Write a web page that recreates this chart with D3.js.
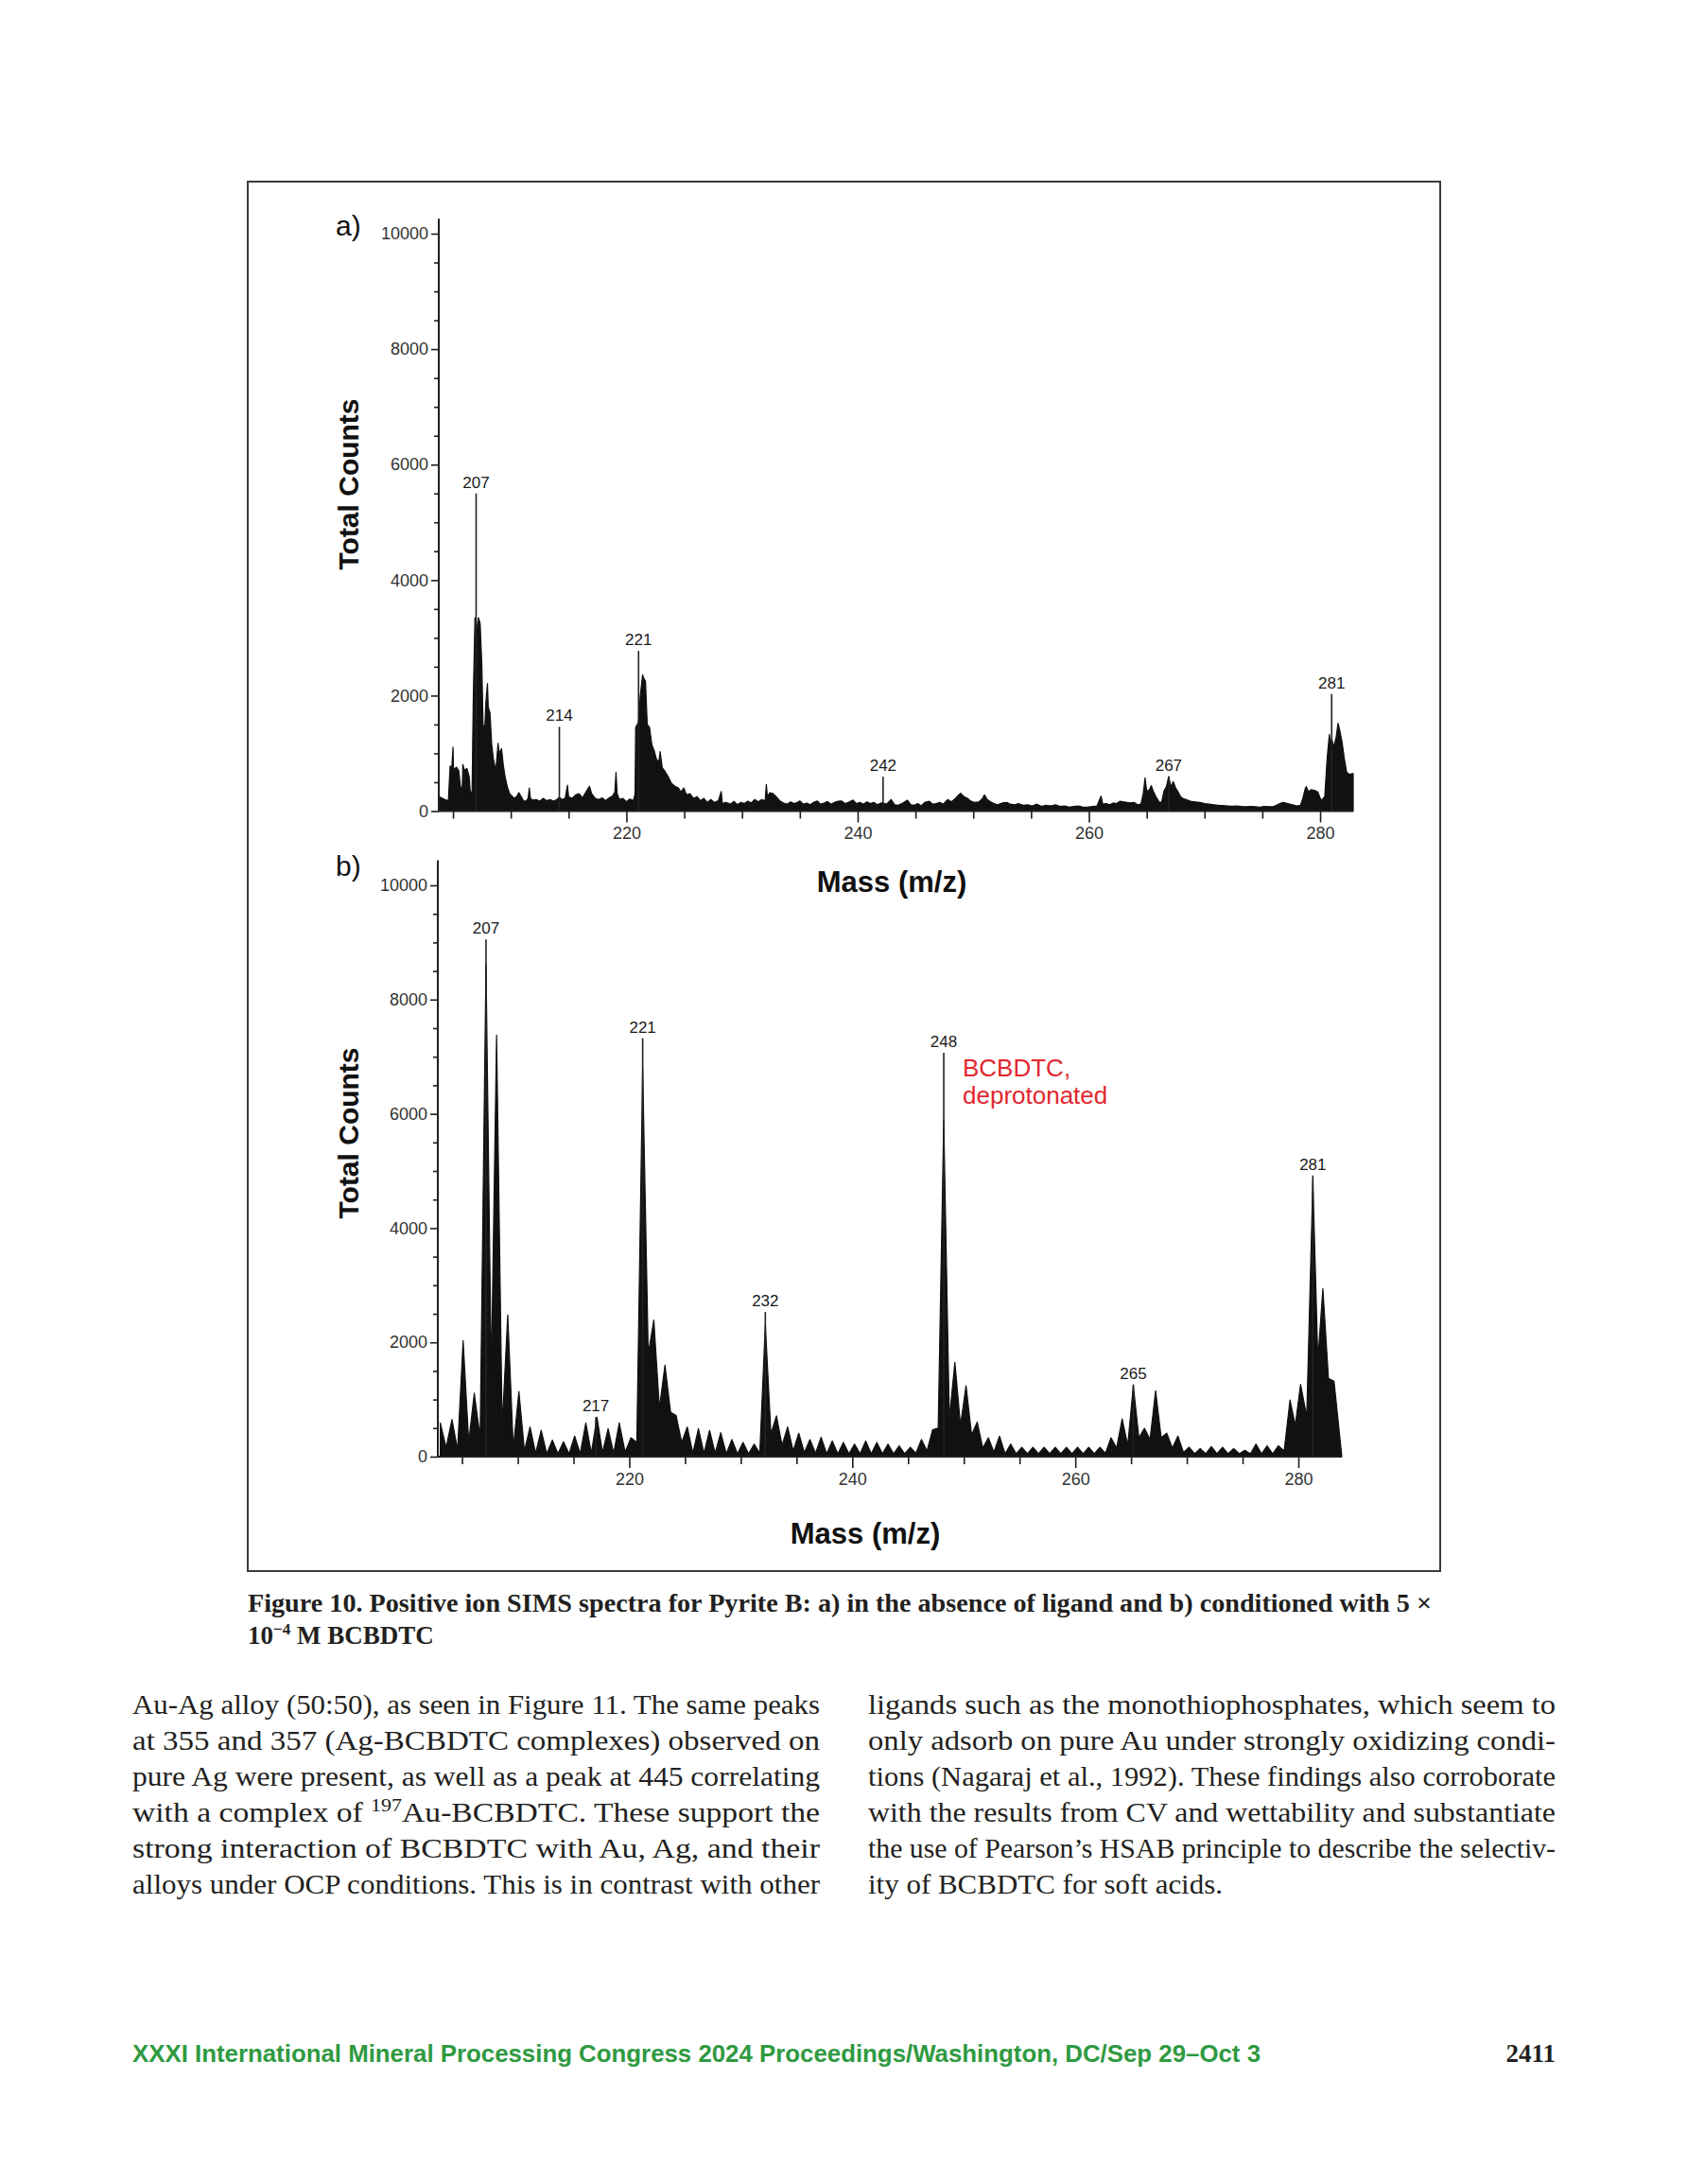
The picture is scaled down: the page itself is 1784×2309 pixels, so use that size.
<!DOCTYPE html>
<html><head><meta charset="utf-8">
<script src="https://cdn.jsdelivr.net/npm/d3@7"></script>
<style>body{margin:0;background:#fff}svg{display:block}</style>
</head><body>
<svg id="c" width="1784" height="2309"></svg>
<script>
// ---------- DATA ----------
// Panel a) spectrum (mass, counts)
const massA = [203.8,204.0,204.3,204.6,204.75,204.9,205.0,205.05,205.3,205.5,205.65,205.8,205.85,206.0,206.2,206.4,206.5,206.65,206.75,206.9,207.0,207.1,207.2,207.35,207.5,207.6,207.75,207.85,207.98,208.05,208.2,208.35,208.5,208.7,208.9,209.0,209.2,209.35,209.5,209.7,209.9,210.1,210.3,210.5,210.7,210.9,211.1,211.3,211.5,211.6,211.7,211.9,212.2,212.5,212.8,213.1,213.4,213.7,214.0,214.2,214.4,214.7,214.9,215.0,215.3,215.6,215.9,216.2,216.5,216.8,217.0,217.3,217.6,217.9,218.2,218.5,218.8,219.0,219.1,219.2,219.4,219.7,220.0,220.3,220.6,220.75,220.8,220.95,221.05,221.2,221.4,221.5,221.65,221.8,222.0,222.2,222.4,222.6,222.8,222.92,223.1,223.3,223.6,223.9,224.2,224.5,224.7,224.96,225.2,225.5,225.8,226.1,226.4,226.7,227.0,227.3,227.6,227.96,228.2,228.3,228.6,229.0,229.3,229.6,229.9,230.2,230.5,230.8,231.1,231.4,231.7,232.0,232.1,232.2,232.4,232.7,233.0,233.3,233.6,233.9,234.2,234.5,234.8,235.0,235.3,235.6,235.9,236.2,236.5,236.8,237.1,237.4,237.7,238.0,238.3,238.6,238.9,239.2,239.6,239.9,240.2,240.5,240.8,241.1,241.4,241.7,242.0,242.2,242.5,242.9,243.2,243.5,243.9,244.3,244.6,244.9,245.2,245.5,245.8,246.2,246.5,246.8,247.1,247.4,247.8,248.1,248.4,248.7,248.9,249.2,249.5,249.8,250.1,250.5,250.8,250.97,251.2,251.5,251.8,252.1,252.5,252.9,253.2,253.6,253.9,254.3,254.7,255.1,255.5,255.9,256.3,256.7,257.1,257.5,257.9,258.3,258.7,259.1,259.5,259.9,260.3,260.7,261.05,261.2,261.5,261.8,262.1,262.4,262.7,263.0,263.3,263.6,263.9,264.2,264.5,264.7,264.86,265.0,265.2,265.4,265.6,265.8,266.1,266.3,266.5,266.7,266.9,267.1,267.3,267.5,267.7,267.9,268.1,268.4,268.8,269.2,269.6,270.0,270.4,270.8,271.2,271.6,272.0,272.4,272.8,273.2,273.6,274.0,274.4,274.8,275.2,275.6,276.0,276.4,276.8,277.2,277.6,278.0,278.3,278.5,278.7,278.8,279.0,279.2,279.5,279.8,280.1,280.4,280.6,280.8,280.95,281.0,281.2,281.4,281.55,281.7,281.9,282.1,282.3,282.5,282.7,282.86];
const countsA = [250,230,200,180,780,760,1110,720,760,700,420,400,810,700,740,600,320,340,1900,3350,3300,3100,3350,3250,2500,1500,1440,1900,2210,1800,1700,1150,900,700,1175,1000,1080,800,600,420,300,260,220,250,320,250,180,170,220,400,220,190,200,170,220,180,200,170,200,240,200,220,450,250,220,280,300,230,330,430,300,220,200,230,180,230,260,330,670,300,200,220,160,210,180,300,1450,1500,1550,2000,2360,2300,2250,1500,1450,1150,1050,900,850,1030,750,700,600,480,430,400,330,400,280,300,220,250,180,220,150,200,150,180,340,130,150,120,170,110,150,130,170,140,200,160,200,180,460,250,320,300,240,170,140,120,160,130,150,175,120,140,110,150,175,120,140,165,120,150,170,175,130,150,190,130,150,120,160,130,150,110,140,140,120,200,110,100,140,190,110,100,130,90,150,170,120,130,150,120,200,160,210,270,310,250,220,170,150,160,220,280,200,160,130,110,140,150,120,110,130,100,110,90,120,80,100,90,110,80,90,70,80,90,70,70,80,90,260,120,130,110,140,130,170,160,150,140,150,110,120,300,575,350,360,440,330,250,150,160,350,420,595,420,510,400,340,260,220,200,170,160,150,130,120,110,100,95,90,85,90,80,75,80,75,70,80,75,80,120,150,130,110,90,100,220,380,425,330,370,360,330,180,250,900,1330,1100,1250,1110,1300,1520,1400,1190,900,670,640,645,650];
const peakTextA = ["207","214","221","242","267","281"];
const peakMassA = [207.0,214.2,221.05,242.2,266.9,281.0];
const peakTopA  = [5500,1460,2775,595,600,2027];

// Panel b) spectrum: nominal-mass peaks (peak mass, peak counts, valley counts after the peak)
const massB = [203.05,204.1,205.1,206.1,207.15,208.1,209.1,210.1,211.1,212.1,213.1,214.1,215.1,216.1,217.1,218.1,219.1,220.15,221.2,222.2,223.2,224.2,225.2,226.2,227.2,228.2,229.2,230.2,231.2,232.2,233.2,234.2,235.2,236.2,237.2,238.2,239.2,240.2,241.2,242.2,243.2,244.2,245.2,246.2,247.2,248.2,249.2,250.2,251.2,252.2,253.2,254.2,255.2,256.2,257.2,258.2,259.2,260.2,261.2,262.2,263.2,264.2,265.2,266.2,267.2,268.2,269.2,270.2,271.2,272.2,273.2,274.2,275.2,276.2,277.2,278.2,279.25,280.2,281.3,282.2,283.2];
const countsB = [590,650,2030,1110,8630,7380,2480,1140,520,460,290,260,360,590,690,490,590,330,6800,2390,1600,720,520,490,460,420,300,250,220,2310,715,520,410,300,340,275,250,220,275,250,220,190,165,300,470,5885,1650,1240,605,330,360,220,165,165,165,165,165,165,165,165,330,660,1240,495,1155,410,360,165,140,175,165,140,110,220,190,190,990,1265,4840,2940,1320];
const valleyB = [160,120,260,330,1440,520,150,100,60,50,50,50,50,60,70,60,80,250,1800,850,780,250,60,60,60,50,50,50,60,400,200,100,70,60,50,50,50,50,50,50,50,50,60,100,500,660,550,380,150,80,50,50,50,50,50,50,50,50,50,60,150,200,330,300,330,150,70,50,50,50,50,50,50,50,50,100,550,700,1700,1370,0];
const peakTextB = ["207","217","221","232","248","265","281"];
const peakMassB = [207.15,217.0,221.2,232.2,248.2,265.2,281.3];
const peakTopB  = [9052,690,7320,2530,7070,1265,4922];

// Axes ticks
const yMajor = [0,2000,4000,6000,8000,10000];
const yMinor = [500,1000,1500,2500,3000,3500,4500,5000,5500,6500,7000,7500,8500,9000,9500];
const xMajor = [220,240,260,280];
const xMinor = [205,210,215,225,230,235,245,250,255,265,270,275];

// ---------- DRAW ----------
const svg = d3.select("#c");
const SANS = "'Liberation Sans', Arial, sans-serif";
const SERIF = "'Liberation Serif', 'Times New Roman', serif";
const INK = "#1e1e1e";

svg.append("rect").attr("x",262).attr("y",192).attr("width",1261).attr("height",1469)
  .attr("fill","none").attr("stroke","#3a3a3a").attr("stroke-width",2);

function panel(cfg){
  const x = d3.scaleLinear().domain(cfg.xdom).range(cfg.xr);
  const y = d3.scaleLinear().domain([0,10000]).range(cfg.yr);
  const g = svg.append("g");
  g.append("path").datum(cfg.pts)
    .attr("d", d3.area().x(d=>x(d[0])).y0(y(0)).y1(d=>y(d[1])))
    .attr("fill","#111").attr("stroke","#111").attr("stroke-width",1.2).attr("stroke-linejoin","round");
  cfg.peakMass.forEach((m,i)=>{
    g.append("line").attr("x1",x(m)).attr("x2",x(m)).attr("y1",y(0)).attr("y2",y(cfg.peakTop[i]))
      .attr("stroke","#222").attr("stroke-width",1.6);
    g.append("text").attr("x",x(m)).attr("y",y(cfg.peakTop[i])-6).attr("text-anchor","middle")
      .attr("font-family",SANS).attr("font-size",17).attr("fill","#1a1a1a").text(cfg.peakText[i]);
  });
  const yax = g.append("g").attr("transform",`translate(${cfg.xr[0]},0)`);
  yax.call(d3.axisLeft(y).tickValues(yMajor).tickSize(8).tickPadding(3).tickSizeOuter(0).tickFormat(d3.format("d")));
  yax.append("g").call(d3.axisLeft(y).tickValues(yMinor).tickSize(5).tickSizeOuter(0).tickFormat(""));
  yax.selectAll(".domain").remove();
  yax.append("line").attr("x1",0).attr("x2",0).attr("y1",y(0)).attr("y2",y(cfg.yTop)).attr("stroke",INK).attr("stroke-width",2);
  const xax = g.append("g").attr("transform",`translate(0,${cfg.yr[0]})`);
  xax.call(d3.axisBottom(x).tickValues(xMajor).tickSize(12).tickPadding(5).tickSizeOuter(0).tickFormat(d3.format("d")));
  xax.append("g").call(d3.axisBottom(x).tickValues(xMinor).tickSize(8).tickSizeOuter(0).tickFormat(""));
  xax.selectAll(".domain").remove();
  xax.append("line").attr("x1",cfg.xr[0]).attr("x2",cfg.xr[1]).attr("y1",0).attr("y2",0).attr("stroke",INK).attr("stroke-width",2);
  g.selectAll(".tick line").attr("stroke",INK).attr("stroke-width",1.6);
  g.selectAll(".tick text").attr("font-family",SANS).attr("font-size",18).attr("fill","#333");
  g.append("text").attr("transform",`translate(379,${cfg.ylabY}) rotate(-90)`).attr("text-anchor","middle")
    .attr("font-family",SANS).attr("font-weight","bold").attr("font-size",30).attr("fill","#111").text("Total Counts");
  g.append("text").attr("x",cfg.xlabX).attr("y",cfg.xlabY).attr("text-anchor","middle")
    .attr("font-family",SANS).attr("font-weight","bold").attr("font-size",31).attr("fill","#111").text("Mass (m/z)");
  g.append("text").attr("x",355).attr("y",cfg.tagY)
    .attr("font-family",SANS).attr("font-size",30).attr("fill","#111").text(cfg.tag);
  return {x,y,g};
}

const ptsA = massA.map((m,i)=>[m,countsA[i]]);
panel({xdom:[203.77,282.86], xr:[464,1431], yr:[857.5,247], yTop:10260, pts:ptsA,
  peakMass:peakMassA, peakTop:peakTopA, peakText:peakTextA, ylabY:512, xlabX:943, xlabY:943, tagY:249, tag:"a)"});

const ptsB = [];
massB.forEach((m,i)=>{
  ptsB.push([m,countsB[i]]);
  const next = i<massB.length-1 ? (m+massB[i+1])/2 : 283.9;
  ptsB.push([next,valleyB[i]]);
});
const pb = panel({xdom:[202.83,283.9], xr:[463,1419], yr:[1540,936], yTop:10440, pts:ptsB,
  peakMass:peakMassB, peakTop:peakTopB, peakText:peakTextB, ylabY:1198, xlabX:915, xlabY:1632, tagY:926, tag:"b)"});

const ann = pb.g.append("text").attr("font-family",SANS).attr("font-size",26).attr("fill","#e3262e");
ann.append("tspan").attr("x",1018).attr("y",1138).text("BCBDTC,");
ann.append("tspan").attr("x",1018).attr("y",1167).text("deprotonated");

// caption
svg.append("text").attr("x",262).attr("y",1704).attr("font-family",SERIF).attr("font-weight","bold")
  .attr("font-size",27).attr("fill","#231f20").attr("textLength",1252).attr("lengthAdjust","spacingAndGlyphs")
  .text("Figure 10.  Positive ion SIMS spectra for Pyrite B: a) in the absence of ligand and b) conditioned with 5 ×");
const cap2 = svg.append("text").attr("x",262).attr("y",1738).attr("font-family",SERIF).attr("font-weight","bold")
  .attr("font-size",27).attr("fill","#231f20");
cap2.append("tspan").text("10");
cap2.append("tspan").attr("dy",-10).attr("font-size",17).text("−4");
cap2.append("tspan").attr("dy",10).text(" M BCBDTC");

// body text
const leftLines = ["Au-Ag alloy (50:50), as seen in Figure 11. The same peaks",
 "at 355 and 357 (Ag-BCBDTC complexes) observed on",
 "pure Ag were present, as well as a peak at 445 correlating",
 null,
 "strong interaction of BCBDTC with Au, Ag, and their",
 "alloys under OCP conditions. This is in contrast with other"];
const rightLines = ["ligands such as the monothiophosphates, which seem to",
 "only adsorb on pure Au under strongly oxidizing condi-",
 "tions (Nagaraj et al., 1992). These findings also corroborate",
 "with the results from CV and wettability and substantiate",
 "the use of Pearson’s HSAB principle to describe the selectiv-",
 "ity of BCBDTC for soft acids."];
const lineY = [1812,1850,1888,1926,1964,2002];
function bodyText(x, y, w){
  return svg.append("text").attr("x",x).attr("y",y).attr("font-family",SERIF).attr("font-size",29)
    .attr("fill","#231f20").attr("textLength",w).attr("lengthAdjust","spacingAndGlyphs");
}
leftLines.forEach((t,i)=>{
  const tx = bodyText(140, lineY[i], 727);
  if(t) tx.text(t);
  else {
    tx.append("tspan").text("with a complex of ");
    tx.append("tspan").attr("dy",-11).attr("font-size",19).text("197");
    tx.append("tspan").attr("dy",11).text("Au-BCBDTC. These support the");
  }
});
rightLines.forEach((t,i)=>{
  bodyText(918, lineY[i], i===5 ? 375 : 727).text(t);
});

// footer
svg.append("text").attr("x",140).attr("y",2180).attr("font-family","'Liberation Sans Narrow', 'Liberation Sans', sans-serif")
  .attr("font-weight","bold").attr("font-size",25).attr("fill","#2f9a41").attr("textLength",1193).attr("lengthAdjust","spacingAndGlyphs")
  .text("XXXI International Mineral Processing Congress 2024 Proceedings/Washington, DC/Sep 29–Oct 3");
svg.append("text").attr("x",1645).attr("y",2180).attr("text-anchor","end").attr("font-family",SERIF)
  .attr("font-weight","bold").attr("font-size",27).attr("fill","#231f20").text("2411");
</script>
</body></html>
